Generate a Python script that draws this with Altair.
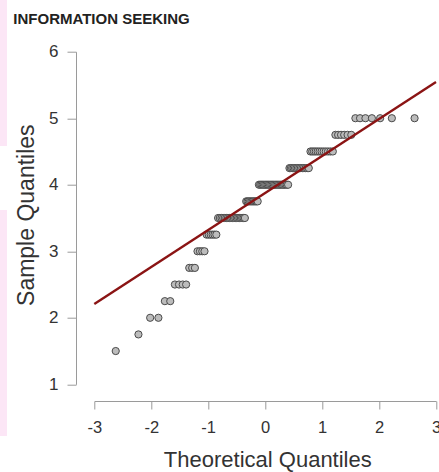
import altair as alt
import numpy as np
import pandas as pd

# ---- data ----
title_text = ["INFORMATION SEEKING"]
levels = [1.5, 1.75, 2.0, 2.25, 2.5, 2.75, 3.0, 3.25, 3.5, 3.75, 4.0, 4.25, 4.5, 4.75, 5.0]
counts = [1, 1, 2, 2, 4, 3, 4, 6, 19, 10, 24, 14, 12, 6, 7]
x_ticks = [-3, -2, -1, 0, 1, 2, 3]
y_ticks = [1, 2, 3, 4, 5, 6]
x_domain = [-3, 3]
y_domain = [1, 6]

sample = np.repeat(levels, counts)
n = len(sample)
df = pd.DataFrame({"sample": sample})

# qqline through the first and third quartiles
q1, q3 = np.quantile(sample, [0.25, 0.75])
z75 = 0.6744897501960817
slope = (q3 - q1) / (2 * z75)
intercept = q1 + slope * z75
line_df = pd.DataFrame({"x": x_domain, "y": [intercept + slope * v for v in x_domain]})

FONT = "Liberation Sans"
W, H = 341.7, 332.6
PAD = {"left": 94.3, "top": 51.7, "right": 3, "bottom": 87.7}

xscale = alt.Scale(domain=x_domain, nice=False, zero=False)
yscale = alt.Scale(domain=y_domain, nice=False, zero=False)

x_axis = alt.Axis(
    values=x_ticks, title="Theoretical Quantiles", offset=16.7, grid=False,
    labelExpr="'' + datum.value",
    domainColor="#9a9a9a", tickColor="#9a9a9a", tickSize=8, labelPadding=10,
    labelFontSize=16.5, labelColor="#333333", labelFont=FONT, labelFlush=False,
    labelOverlap=False, labelBound=False,
    titleFont=FONT, titleFontSize=22, titleFontWeight="normal", titleColor="#333333",
    titleBaseline="alphabetic", titleY=65, titleX=173,
)
y_axis = alt.Axis(
    values=y_ticks, title="Sample Quantiles", offset=18.3, grid=False,
    labelExpr="'' + datum.value",
    domainColor="#9a9a9a", tickColor="#9a9a9a", tickSize=9, labelPadding=9,
    labelFontSize=17, labelColor="#333333", labelFont=FONT, labelFlush=False,
    labelOverlap=False, labelBound=False,
    titleFont=FONT, titleFontSize=23, titleFontWeight="normal", titleColor="#333333",
    titleAngle=270, titleBaseline="alphabetic", titleX=-42.5, titleY=163,
    titleAlign="center",
)

strip_df = pd.DataFrame({"k": [0]})
strip1 = alt.Chart(strip_df).mark_rect(color="#fce6f6").encode(
    x=alt.value(-94.3), x2=alt.value(-87.3), y=alt.value(-51.7), y2=alt.value(94.3)
)
strip2 = alt.Chart(strip_df).mark_rect(color="#fce6f6").encode(
    x=alt.value(-94.3), x2=alt.value(-87.3), y=alt.value(158.3), y2=alt.value(384.3)
)

points = alt.Chart(df).transform_window(
    rank="row_number()", sort=[alt.SortField("sample", order="ascending")]
).transform_calculate(
    theo=f"quantileNormal((datum.rank - 0.5) / {n})"
).mark_circle(
    size=52, color="#bcbcbc", stroke="#4a4a4a", strokeWidth=1, opacity=1
).encode(
    x=alt.X("theo:Q", scale=xscale, axis=x_axis),
    y=alt.Y("sample:Q", scale=yscale, axis=y_axis),
)

qqline = alt.Chart(line_df).mark_line(color="#8b1414", strokeWidth=2.4, clip=False).encode(
    x=alt.X("x:Q", scale=xscale),
    y=alt.Y("y:Q", scale=yscale),
)

title = alt.Chart(pd.DataFrame({"t": title_text})).mark_text(
    align="left", baseline="alphabetic", fontSize=15, fontWeight="bold",
    font=FONT, color="#222222"
).encode(x=alt.value(-81), y=alt.value(-27.7), text="t:N")

chart = alt.layer(strip1, strip2, points, qqline, title).properties(
    width=W, height=H, padding=PAD, autosize="none", background="white"
).configure_view(strokeWidth=0)

chart.save("out.html", embed_options={"renderer": "svg", "actions": False})
